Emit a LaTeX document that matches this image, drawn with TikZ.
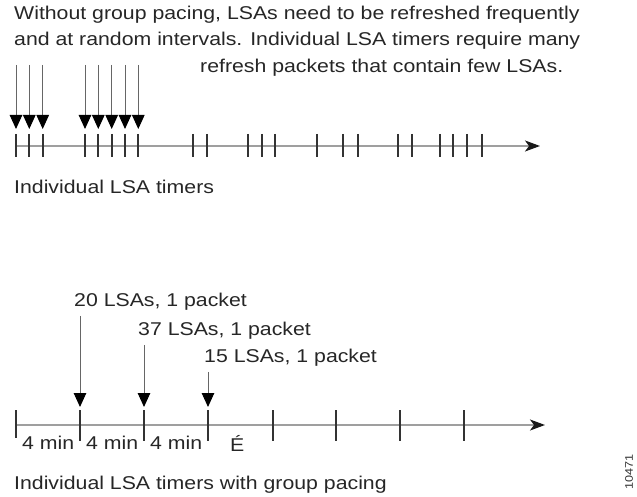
\documentclass[tikz,border=0pt]{standalone}
\usepackage{fontspec}
\setmainfont{Liberation Sans}[FakeStretch=1.15]
\usetikzlibrary{arrows.meta, positioning}

\begin{document}
\begin{tikzpicture}[x=1pt,y=-1pt,
  txt/.style={inner sep=0pt, anchor=west, font=\fontsize{18.5}{22}\selectfont, text=black!85},
  axisline/.style={gray!75, line width=1.5pt, -{Stealth[length=15pt,width=11pt,inset=4pt,color=black!90]}},
  tickmark/.style={black!80, line width=1.8pt},
  refresh/.style={black!60, line width=1pt, -{Triangle[length=14pt,width=12.5pt,color=black]}}]
  \useasboundingbox (0,0) rectangle (637,497);
  % heading
  \node[txt] (head1) at (14,15) {Without group pacing, LSAs need to be refreshed frequently};
  \node[txt] (head2) at (14,41) {and at random intervals. Individual LSA timers require many};
  \node[txt] (head3) at (200,68) {refresh packets that contain few LSAs.};
  % individual timers
  \coordinate (ta0) at (15,146);
  \coordinate (ta1) at (540,146);
  \draw[axisline] (ta0) -- (ta1);
  \foreach \x [count=\i] in {16,29.3,42.7,85,98.3,111.7,125,138.3}{
    \coordinate (ra\i) at (\x,65);
    \coordinate (rb\i) at (\x,129);
    \draw[refresh] (ra\i) -- (rb\i);
  }
  \foreach \x in {16,29.3,42.7,85,98.3,111.7,125,138.3,193.3,206.7,248.3,261.7,275,
                  316.7,343.3,358.3,398.3,411.7,440,453.3,466.7,481.7}
    \draw[tickmark] (\x,134) -- (\x,157);
  \node[txt] (lbl1) at (14,187) {Individual LSA timers};
  % group pacing
  \coordinate (tb0) at (16,425);
  \coordinate (tb1) at (545,425);
  \draw[axisline] (tb0) -- (tb1);
  \draw[tickmark] (16,410) -- (16,438);
  \foreach \x [count=\i] in {80,144,208,273,336,400,464}
    \draw[tickmark] (\x,410) -- (\x,441) coordinate (tk\i);
  \node[txt] (pk1) at (74,302) {20 LSAs, 1 packet};
  \node[txt] (pk2) at (138,331) {37 LSAs, 1 packet};
  \node[txt] (pk3) at (204,358) {15 LSAs, 1 packet};
  \draw[refresh] (pk1.south -| tk1) ++(0,5) -- (80,407);
  \draw[refresh] (pk2.south -| tk2) ++(0,5) -- (144,407);
  \draw[refresh] (pk3.south -| tk3) ++(0,5) -- (208,407);
  \foreach \x [count=\i] in {22,86,150}
    \node[txt] (gap\i) at (\x,443) {4 min};
  \node[txt] (more) at (230,443) {É};
  \node[txt] (lbl2) at (14,485) {Individual LSA timers with group pacing};
  \node[inner sep=0pt, rotate=90, font=\fontsize{11}{13}\selectfont, text=black!80] (fig) at (629,472) {10471};
\end{tikzpicture}
\end{document}
